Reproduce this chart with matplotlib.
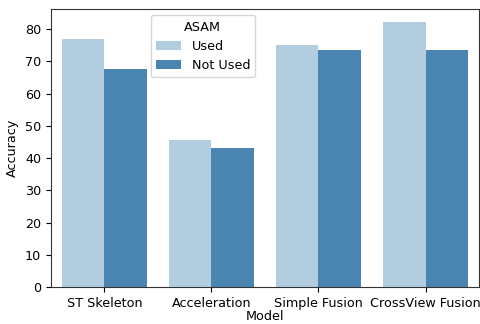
import matplotlib
matplotlib.use("Agg")
import matplotlib.pyplot as plt
import numpy as np

models = ["ST Skeleton", "Acceleration", "Simple Fusion", "CrossView Fusion"]
used = [76.9, 45.6, 75.0, 82.1]
not_used = [67.6, 43.2, 73.5, 73.5]
hue_labels = ["Used", "Not Used"]
colors = ["#b3cde0", "#4a84b1"]

plt.rcParams["font.size"] = 9.2

fig = plt.figure(figsize=(4.8, 3.24), dpi=100)
ax = fig.add_axes([0.106, 0.114, 0.892, 0.858])

x = np.arange(len(models))
w = 0.4
ax.bar(x - w / 2, used, w, color=colors[0], label=hue_labels[0])
ax.bar(x + w / 2, not_used, w, color=colors[1], label=hue_labels[1])

ax.set_xticks(x)
ax.set_xticklabels(models)
ax.set_xlim(-0.5, len(models) - 0.5)
ax.set_ylim(0, 86.2)
ax.set_xlabel("Model", labelpad=0.5)
ax.set_ylabel("Accuracy")
for s in ax.spines.values():
    s.set_color("#333333")
ax.legend(title="ASAM", loc="upper center", bbox_to_anchor=(0.355, 1.0))

fig.savefig("out.png", dpi=100)
